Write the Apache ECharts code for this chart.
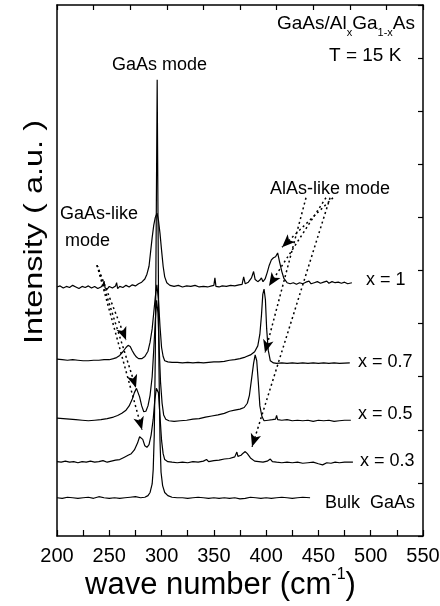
<!DOCTYPE html>
<html>
<head>
<meta charset="utf-8">
<script src="https://cdn.jsdelivr.net/npm/echarts@6.0.0/dist/echarts.min.js"></script>
<style>
  html, body { margin: 0; padding: 0; background: #fff; }
  #chart { width: 440px; height: 606px; }
</style>
</head>
<body>
<div id="chart"></div>
<script>
// spectra: [wave number (cm-1), intensity (a.u., offset)]
var bulkGaAs = [[200,0.72],[205,0.71],[210,0.73],[215,0.72],[220,0.71],[225,0.72],[230,0.73],[235,0.71],[240,0.74],[245,0.72],[250,0.71],[255,0.72],[260,0.71],[265,0.72],[270,0.73],[275,0.74],[280,0.72],[284,0.73],[287,0.76],[289,0.82],[291,0.98],[292,1.25],[293,1.9],[294,3.4],[295,6.2],[295.8,8.59],[296.6,6.0],[297.5,3.2],[298.5,1.8],[299.5,1.2],[301,0.95],[303,0.82],[306,0.76],[310,0.73],[315,0.72],[320,0.72],[325,0.71],[330,0.72],[335,0.73],[340,0.72],[345,0.71],[350,0.72],[355,0.71],[360,0.72],[365,0.71],[370,0.72],[375,0.70],[380,0.71],[385,0.73],[390,0.72],[395,0.71],[400,0.72],[405,0.71],[410,0.72],[415,0.73],[420,0.72],[425,0.71],[430,0.72],[435,0.73],[442,0.72]];

var x03 = [[200,1.40],[204,1.39],[208,1.41],[212,1.39],[216,1.40],[220,1.38],[224,1.40],[228,1.39],[232,1.41],[236,1.39],[240,1.40],[244,1.42],[248,1.39],[252,1.41],[256,1.43],[260,1.44],[264,1.48],[268,1.52],[271,1.55],[274,1.62],[277,1.75],[279,1.87],[280.5,1.90],[282,1.82],[284,1.70],[286,1.67],[288,1.72],[290,1.9],[292,2.2],[293.5,2.55],[295,2.78],[296,2.81],[297,2.7],[298.5,2.25],[300,1.8],[301.5,1.55],[303,1.44],[306,1.40],[310,1.39],[315,1.38],[320,1.39],[325,1.38],[330,1.40],[335,1.39],[340,1.41],[343,1.44],[345,1.40],[350,1.42],[355,1.43],[360,1.45],[365,1.46],[370,1.49],[372,1.58],[373,1.50],[376,1.52],[378,1.56],[380,1.59],[382,1.55],[385,1.47],[389,1.41],[393,1.40],[397,1.39],[401,1.41],[404,1.45],[406,1.40],[410,1.39],[415,1.38],[420,1.39],[425,1.38],[430,1.39],[435,1.37],[440,1.38],[445,1.39],[450,1.36],[454,1.34],[458,1.38],[462,1.37],[466,1.39],[470,1.38],[475,1.39],[483,1.39]];

var x05 = [[200,2.22],[206,2.21],[212,2.20],[218,2.19],[224,2.18],[230,2.17],[236,2.18],[242,2.19],[248,2.21],[254,2.24],[258,2.27],[262,2.31],[266,2.37],[269,2.45],[272,2.58],[274,2.70],[276,2.78],[277.5,2.76],[279,2.62],[281,2.45],[283,2.34],[285,2.35],[287,2.45],[289,2.65],[291,3.0],[292.5,3.5],[294,4.05],[295.3,4.44],[296.5,4.2],[297.8,3.5],[299,2.9],[300.5,2.5],[302,2.28],[304,2.20],[307,2.17],[312,2.16],[318,2.17],[324,2.18],[330,2.20],[336,2.21],[342,2.24],[348,2.26],[354,2.28],[360,2.31],[365,2.35],[370,2.37],[375,2.39],[379,2.42],[382,2.50],[384,2.65],[386,2.95],[388,3.25],[389.5,3.41],[391,3.3],[392.5,2.9],[394,2.45],[396,2.25],[398,2.17],[402,2.18],[406,2.19],[409,2.20],[410,2.27],[411,2.19],[415,2.18],[420,2.19],[425,2.17],[430,2.18],[435,2.17],[440,2.18],[445,2.16],[450,2.18],[455,2.17],[460,2.18],[465,2.16],[470,2.17],[475,2.18],[481,2.18]];

var x07 = [[200,3.33],[205,3.32],[210,3.31],[215,3.32],[220,3.31],[225,3.30],[230,3.30],[235,3.31],[240,3.31],[245,3.32],[250,3.32],[254,3.34],[257,3.36],[260,3.40],[263,3.47],[266,3.55],[268,3.59],[270,3.57],[272,3.49],[274,3.42],[276,3.37],[278,3.34],[281,3.34],[284,3.38],[287,3.48],[289,3.65],[291,3.9],[292.5,4.2],[294,4.5],[295.5,4.73],[297,4.45],[298.5,3.95],[300,3.55],[301.5,3.38],[303,3.30],[306,3.28],[310,3.27],[315,3.27],[320,3.26],[325,3.27],[330,3.26],[335,3.27],[340,3.26],[345,3.27],[350,3.28],[355,3.28],[360,3.29],[365,3.31],[370,3.32],[375,3.34],[380,3.37],[385,3.41],[389,3.47],[392,3.58],[394,3.80],[395.5,4.15],[396.8,4.55],[398,4.65],[399.3,4.45],[400.5,3.9],[402,3.5],[404,3.3],[407,3.26],[410,3.25],[415,3.26],[420,3.25],[425,3.26],[430,3.25],[435,3.26],[440,3.25],[445,3.26],[450,3.25],[455,3.26],[460,3.25],[465,3.26],[470,3.25],[480,3.26]];

var x10 = [[200,4.69],[203,4.71],[206,4.67],[209,4.70],[212,4.68],[215,4.72],[218,4.69],[221,4.66],[224,4.70],[227,4.68],[230,4.71],[233,4.67],[236,4.70],[239,4.66],[242,4.69],[244,4.73],[245,4.80],[246,4.67],[248,4.65],[250,4.70],[253,4.67],[256,4.71],[257,4.77],[258,4.66],[260,4.70],[263,4.68],[266,4.72],[269,4.69],[272,4.73],[275,4.71],[278,4.75],[281,4.78],[284,4.84],[286,4.93],[288,5.08],[289.5,5.35],[291,5.62],[292.5,5.85],[294,6.0],[295.6,6.08],[297,5.95],[298.5,5.7],[300,5.38],[301.5,5.08],[303,4.88],[305,4.77],[308,4.72],[312,4.70],[316,4.72],[320,4.69],[324,4.71],[328,4.70],[332,4.72],[336,4.69],[340,4.70],[344,4.69],[348,4.71],[350,4.72],[351,4.86],[352,4.70],[355,4.69],[358,4.71],[362,4.70],[366,4.72],[370,4.71],[374,4.73],[377,4.74],[378.5,4.88],[380,4.75],[383,4.78],[386,4.86],[388,4.98],[389.5,4.83],[392,4.79],[394,4.82],[395.5,4.86],[397,4.79],[399,4.84],[401,4.96],[403,5.10],[405,5.20],[407,5.24],[409,5.26],[411,5.33],[413,5.15],[415,4.98],[417,4.85],[420,4.77],[423,4.75],[426,4.77],[429,4.74],[432,4.77],[435,4.75],[438,4.78],[441,4.80],[443,4.75],[446,4.77],[449,4.79],[452,4.76],[455,4.78],[458,4.80],[460,4.76],[463,4.79],[466,4.77],[469,4.78],[472,4.76],[475,4.78],[478,4.75],[482,4.77]];

// dotted arrows: [start, end] in data coords
var gaasLikeArrows = [
  [[238.3,5.10],[266.0,3.69]],
  [[238.3,5.10],[275.5,2.79]],
  [[238.3,5.10],[281.3,2.00]]
];
var alasLikeArrows = [
  [[463.9,6.37],[415.2,5.44]],
  [[457.2,6.37],[402.7,4.71]],
  [[438.1,6.37],[398.9,3.45]],
  [[461.1,6.37],[386.5,1.68]]
];

var spectra = [
  {name:'Bulk GaAs', data:bulkGaAs},
  {name:'x = 0.3', data:x03},
  {name:'x = 0.5', data:x05},
  {name:'x = 0.7', data:x07},
  {name:'x = 1', data:x10}
];

var font = '"Liberation Sans", Arial, Helvetica, sans-serif';

var arrowData = gaasLikeArrows.concat(alasLikeArrows).map(function (a) {
  return [{coord:a[0]}, {coord:a[1]}];
});

var series = spectra.map(function (s, i) {
  var item = {
    name: s.name,
    type: 'line',
    data: s.data,
    showSymbol: false,
    symbol: 'none',
    lineStyle: {color:'#000', width:1.2},
    animation: false,
    silent: true
  };
  if (i === 0) {
    item.markLine = {
      silent: true,
      symbol: ['none','arrow'],
      symbolSize: [8, 13],
      label: {show:false},
      lineStyle: {color:'#000', width:1.5, type:[2,3]},
      animation: false,
      data: arrowData
    };
  }
  return item;
});

function txt(left, top, text, size) {
  return {
    type: 'text', left: left, top: top,
    style: {text: text, font: size + 'px ' + font, fill: '#000'}
  };
}

var axisLine = {show:true, onZero:false, lineStyle:{color:'#000', width:1.5}};

var option = {
  backgroundColor: '#fff',
  animation: false,
  grid: {left:57, right:17, top:5, bottom:70, containLabel:false, outerBoundsMode:'none'},
  xAxis: [
    {
      type:'value', min:200, max:550, interval:25, position:'bottom',
      axisLine:axisLine,
      axisTick:{show:true, inside:true, length:6, lineStyle:{color:'#000', width:1.2}},
      axisLabel:{
        color:'#000', fontSize:20, fontFamily:font, margin:10,
        formatter:function (v) { return v % 50 === 0 ? v : ''; }
      },
      splitLine:{show:false}
    },
    {
      // top frame, its own ten divisions
      type:'value', min:0, max:10, interval:1, position:'top',
      axisLine:axisLine,
      axisTick:{show:true, inside:true, length:5, lineStyle:{color:'#000', width:1.2}},
      axisLabel:{show:false},
      splitLine:{show:false}
    }
  ],
  yAxis: [
    {
      type:'value', min:0, max:10, interval:1, position:'left',
      axisLine:axisLine,
      axisTick:{show:false},
      axisLabel:{show:false},
      splitLine:{show:false}
    },
    {
      type:'value', min:0, max:10, interval:1, position:'right',
      axisLine:axisLine,
      axisTick:{show:true, inside:true, length:5, lineStyle:{color:'#000', width:1.2}},
      axisLabel:{show:false},
      splitLine:{show:false}
    }
  ],
  series: series,
  graphic: [
    {
      type:'text', left:277, top:14,
      style:{
        text:'GaAs/Al{s|x}Ga{s|1-x}As',
        font:'19px ' + font, fill:'#000',
        rich:{s:{fontSize:11, fontFamily:font, verticalAlign:'bottom', lineHeight:30}}
      }
    },
    txt(329, 46, 'T = 15 K', 19),
    txt(112, 56, 'GaAs mode', 18),
    txt(270, 180, 'AlAs-like mode', 18),
    txt(60, 205, 'GaAs-like', 18),
    txt(65, 232, 'mode', 18),
    txt(366, 271, 'x = 1', 18),
    txt(358, 353, 'x = 0.7', 18),
    txt(358, 405, 'x = 0.5', 18),
    txt(360, 452, 'x = 0.3', 18),
    txt(325, 494, 'Bulk  GaAs', 18),
    {
      type:'text', left:85, top:567,
      style:{
        text:'wave number (cm{s|-1})',
        font:'31px ' + font, fill:'#000',
        rich:{s:{fontSize:16, fontFamily:font, verticalAlign:'top', lineHeight:36}}
      }
    },
    {
      type:'text', x:35, y:232, rotation:Math.PI/2, scaleX:1.3,
      style:{
        text:'Intensity ( a.u. )', font:'25px ' + font, fill:'#000',
        align:'center', verticalAlign:'middle'
      }
    }
  ]
};

var chart = echarts.init(document.getElementById('chart'));
chart.setOption(option);
</script>
</body>
</html>
